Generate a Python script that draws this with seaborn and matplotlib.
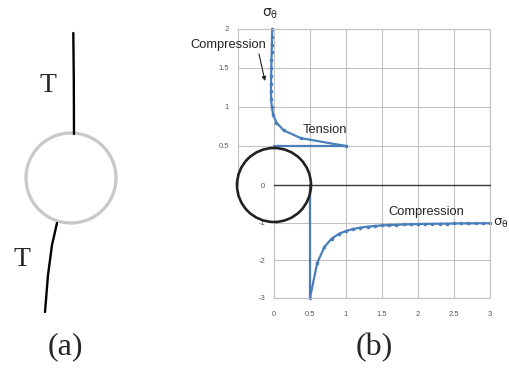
import matplotlib
matplotlib.use("Agg")
import matplotlib.pyplot as plt
from matplotlib.patches import Circle
import seaborn as sns
import numpy as np

# Tangential stress sigma_theta around a circular hole of radius 0.5 under unit load.
# Along the loading direction: stress (horizontal) against distance r (vertical).
upper_r = [0.5, 0.6, 0.7, 0.8, 0.9, 1.0, 1.1, 1.2, 1.3, 1.4, 1.5, 1.6, 1.7, 1.8, 1.9, 2.0]
upper_sigma = [1.0, 0.376, 0.135, 0.034, -0.011, -0.031, -0.039, -0.042, -0.041,
               -0.039, -0.037, -0.035, -0.032, -0.030, -0.027, -0.025]

# Across the loading direction: distance r (horizontal) against stress (vertical).
lower_r = [0.5, 0.6, 0.7, 0.8, 0.9, 1.0, 1.1, 1.2, 1.3, 1.4, 1.5, 1.6, 1.7,
           1.8, 1.9, 2.0, 2.1, 2.2, 2.3, 2.4, 2.5, 2.6, 2.7, 2.8, 2.9, 3.0]
lower_sigma = [-3.0, -2.07, -1.645, -1.424, -1.297, -1.219, -1.167, -1.132, -1.107,
               -1.088, -1.074, -1.063, -1.055, -1.048, -1.042, -1.037, -1.033, -1.030,
               -1.027, -1.025, -1.022, -1.020, -1.019, -1.017, -1.016, -1.015]

upper_yticks = [0.5, 1.0, 1.5, 2.0]
upper_ylabels = ["0.5", "1", "1.5", "2"]
lower_xticks = [0, 0.5, 1.0, 1.5, 2.0, 2.5, 3.0]
lower_xlabels = ["0", "0.5", "1", "1.5", "2", "2.5", "3"]
lower_yticks = [-3, -2, -1, 0]
lower_ylabels = ["-3", "-2", "-1", "0"]

sns.set_theme(style="whitegrid")
plt.rcParams["font.family"] = ["Liberation Sans", "DejaVu Sans"]

BLUE = "#4a7ebb"
GRID = "#c2c2c2"
TICK = "#5a5a5a"
W, H = 509, 371

fig = plt.figure(figsize=(W / 100, H / 100), dpi=100)
fig.patch.set_facecolor("white")

ax_up = fig.add_axes([238 / W, 1 - 185 / H, 252 / W, 156 / H])
ax_lo = fig.add_axes([274 / W, 1 - 298 / H, 216 / W, 113 / H])

for ax in (ax_up, ax_lo):
    ax.set_facecolor("none")
    ax.grid(True, color=GRID, lw=0.8)
    ax.tick_params(length=0, labelsize=5.5, labelcolor=TICK)
    for s in ax.spines.values():
        s.set_color(GRID)
        s.set_linewidth(0.8)

# upper panel
ax_up.set_xlim(-0.5, 3)
ax_up.set_ylim(0, 2)
ax_up.set_xticks(np.arange(-0.5, 3.01, 0.5))
ax_up.tick_params(labelbottom=False, pad=6.5)
ax_up.set_yticks(upper_yticks)
ax_up.set_yticklabels(upper_ylabels)
ax_up.spines["bottom"].set_visible(False)

sns.lineplot(x=upper_sigma, y=upper_r, sort=False, estimator=None, ax=ax_up,
             color=BLUE, lw=1.6, marker="o", markersize=2.6, markeredgewidth=0,
             clip_on=False)
ax_up.plot([0, upper_sigma[0]], [upper_r[0], upper_r[0]], color=BLUE, lw=1.6,
           clip_on=False)

# lower panel
ax_lo.set_xlim(0, 3)
ax_lo.set_ylim(-3, 0)
ax_lo.set_xticks(lower_xticks)
ax_lo.set_xticklabels(lower_xlabels)
ax_lo.set_yticks(lower_yticks)
ax_lo.set_yticklabels(lower_ylabels)
ax_lo.tick_params(axis="x", pad=9)
ax_lo.tick_params(axis="y", pad=6.5)
ax_lo.spines["top"].set_color("#3a3a3a")
ax_lo.spines["top"].set_linewidth(1.0)
ax_lo.spines["top"].set_zorder(3)

sns.lineplot(x=lower_r, y=lower_sigma, sort=False, estimator=None, ax=ax_lo,
             color=BLUE, lw=1.6, marker="o", markersize=2.6, markeredgewidth=0,
             clip_on=False)
ax_lo.plot([lower_r[0], lower_r[0]], [0, lower_sigma[0]], color=BLUE, lw=1.6,
           clip_on=False)

# overlay in pixel units for the sketches and annotations
ov = fig.add_axes([0, 0, 1, 1])
ov.set_xlim(0, W)
ov.set_ylim(H, 0)
ov.axis("off")

# hole outline centred on the origin of the stress plot
cx, cy = ov.transData.inverted().transform(ax_lo.transData.transform((0, 0)))
ov.add_patch(Circle((cx, cy), 37, fill=False, ec="#222222", lw=1.9, zorder=5))

# (a) sketch: hole with two tension fibres
ov.add_patch(Circle((71, 178), 45, fill=False, ec="#c8c8c8", lw=2.3))
ov.plot([73.3, 73.8, 74.0], [33, 80, 134], color="black", lw=1.7,
        solid_capstyle="round")
ov.plot([57, 52, 48, 45], [223, 245, 275, 312], color="black", lw=1.7,
        solid_capstyle="round")

serif = ["Liberation Serif", "DejaVu Serif"]
ov.text(48, 86, "T", fontsize=20, family=serif, ha="center", va="center")
ov.text(22, 260, "T", fontsize=20, family=serif, ha="center", va="center")
ov.text(65, 347, "(a)", fontsize=23, family=serif, ha="center", va="center")
ov.text(374, 348, "(b)", fontsize=23, family=serif, ha="center", va="center")

# labels on the stress plot
ov.text(190, 45, "Compression", fontsize=9.3, ha="left", va="center")
ov.annotate("", xy=(265, 81), xytext=(259, 54),
            arrowprops=dict(arrowstyle="-|>", color="#222222", lw=0.8,
                            mutation_scale=6, shrinkA=0, shrinkB=0))
ov.text(303, 130, "Tension", fontsize=9.3, ha="left", va="center")
ov.text(388, 212, "Compression", fontsize=9.3, ha="left", va="center")
ov.text(270, 14, r"$\mathrm{\sigma_\theta}$", fontsize=10, ha="center", va="center")
ov.text(493, 223, r"$\mathrm{\sigma_\theta}$", fontsize=9.5, ha="left", va="center")

fig.savefig("out.png", dpi=100)
